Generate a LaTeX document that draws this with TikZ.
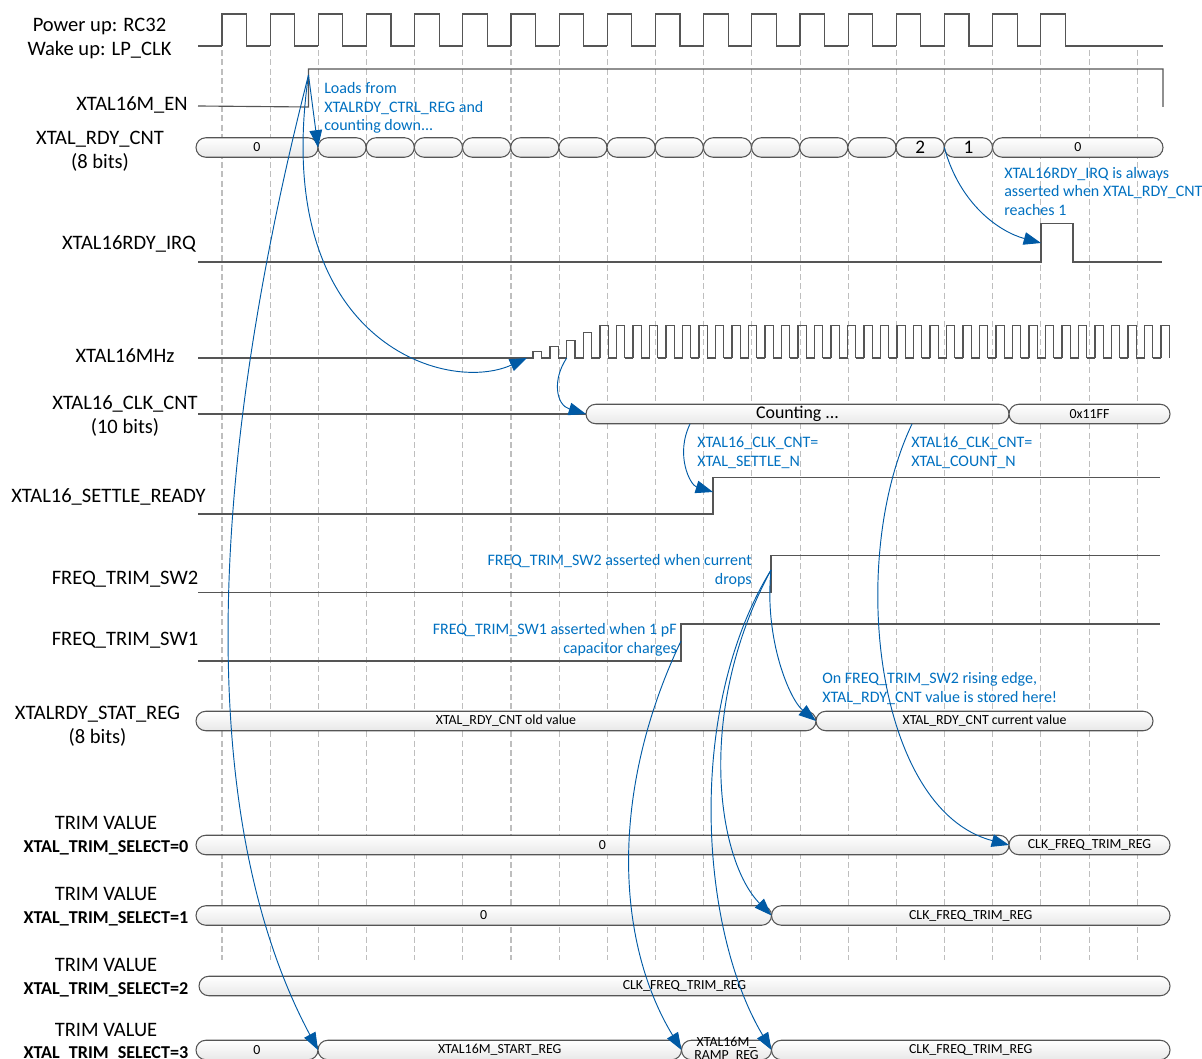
\documentclass[tikz,border=0pt]{standalone}
\usepackage{fontspec}
\setmainfont{Carlito}
\definecolor{wiregray}{RGB}{85,85,85}
\definecolor{gridgray}{RGB}{190,190,190}
\definecolor{notablue}{RGB}{0,112,192}
\definecolor{arrowblue}{RGB}{0,90,165}
\usetikzlibrary{shapes.misc,arrows.meta,positioning}
\newcommand{\boldselect}{\fontsize{13.6}{16}\selectfont\bfseries}
\newcommand{\bigvalue}{\fontsize{13.4}{16}\selectfont}
\tikzset{
    wire/.style={draw=wiregray, line width=0.85pt},
    gridline/.style={draw=gridgray, line width=0.8pt, dash pattern=on 4.5pt off 2.5pt},
    busbox/.style={rounded rectangle, draw=wiregray, line width=0.8pt, top color=white, bottom color=gray!18, minimum height=14.6pt, inner sep=0pt, outer sep=0pt, font=\fontsize{10.4}{12}\selectfont, text=black},
    signame/.style={font=\fontsize{15.4}{18}\selectfont, align=center, text=black, inner sep=0pt},
    note/.style={font=\large, text=notablue, inner sep=0pt},
    jump/.style={draw=arrowblue, line width=0.7pt, -{Triangle[length=13pt,width=9.5pt,fill=arrowblue]}},
}
% name, left x, right x, centre y, text
\newcommand{\busnode}[5]{
    \node[busbox, minimum width={((#3)-(#2))*0.75pt}] (#1) at ({((#2)+(#3))/2},#4) {#5};
}
\begin{document}
\begin{tikzpicture}[x=0.75pt,y=-0.75pt]
    \useasboundingbox (0,0) rectangle (1202,1059);

    % time grid
    \foreach \i in {0,...,19} {
        \draw[gridline] ({222+48.17*\i},50) -- ({222+48.17*\i},960);
    }

    % signal names
    \node[signame] (lblclk) at (99.5,38.5) {Power up: RC32\\Wake up: LP\_CLK};
    \node[signame] (lblen) at (132,105) {XTAL16M\_EN};
    \node[signame] (lblcnt) at (100,151) {XTAL\_RDY\_CNT\\(8 bits)};
    \node[signame] (lblirq) at (129,244) {XTAL16RDY\_IRQ};
    \node[signame] (lblmhz) at (125,356) {XTAL16MHz};
    \node[signame] (lblclkcnt) at (125,416) {XTAL16\_CLK\_CNT\\(10 bits)};
    \node[signame] (lblsettle) at (108.5,497) {XTAL16\_SETTLE\_READY};
    \node[signame] (lblswtwo) at (125,579) {FREQ\_TRIM\_SW2};
    \node[signame] (lblswone) at (125,640) {FREQ\_TRIM\_SW1};
    \node[signame] (lblstat) at (97.5,726) {XTALRDY\_STAT\_REG\\(8 bits)};
    \node[signame] (lblselzero) at (106,836) {TRIM VALUE\\[-1pt]{\boldselect XTAL\_TRIM\_SELECT=0}};
    \node[signame] (lblselone) at (106,907) {TRIM VALUE\\[-1pt]{\boldselect XTAL\_TRIM\_SELECT=1}};
    \node[signame] (lblseltwo) at (106,977.5) {TRIM VALUE\\[-1pt]{\boldselect XTAL\_TRIM\_SELECT=2}};
    \node[signame] (lblselthree) at (106,1042) {TRIM VALUE\\[-1pt]{\boldselect XTAL\_TRIM\_SELECT=3}};

    % clock
    \coordinate (clkstart) at (198,46);
    \draw[wire] (clkstart) -- (222,46);
    \foreach \i in {0,...,17} {
        \draw[wire] ({222+48.17*\i},46) -- ({222+48.17*\i},14) -- ({246.5+48.17*\i},14) -- ({246.5+48.17*\i},46) -- ({270.17+48.17*\i},46);
    }
    \coordinate (clkend) at (1163,46);
    \draw[wire] (1065,46) -- (clkend);

    % enable
    \coordinate (enstart) at (198,106);
    \coordinate (enrise) at (308.5,75);
    \draw[wire] (enstart) -- (308.5,107) -- (308.5,69) -- (1163,69) -- (1163,107);

    % ready counter
    \busnode{cntold}{196}{318}{147.5}{0}
    \foreach \i in {0,...,12} {
        \busnode{cnt\i}{318+48.17*\i}{366.17+48.17*\i}{147.5}{}
    }
    \busnode{cnttwo}{896}{944.3}{147.5}{\Large 2}
    \busnode{cntone}{944.3}{992.5}{147.5}{\Large 1}
    \busnode{cntzero}{992.5}{1163}{147.5}{0}

    % ready interrupt
    \coordinate (irqstart) at (198,262);
    \coordinate (irqrise) at (1041,243);
    \draw[wire] (irqstart) -- (1041,262) -- (1041,223.5) -- (1073,223.5) -- (1073,262) -- (1162,262);

    % crystal start up
    \coordinate (mhzstart) at (198,358);
    \coordinate (mhzfirst) at (527,358);
    \coordinate (mhzrise) at (566.7,358);
    \draw[wire] (mhzstart) -- (533,358) -- (533,351.5) -- (541.7,351.5) -- (541.7,358) -- (550,358) -- (550,346.5) -- (558.3,346.5) -- (558.3,358) -- (566.7,358) -- (566.7,340.5) -- (575,340.5) -- (575,358) -- (583.3,358) -- (583.3,332.5) -- (591.7,332.5) -- (591.7,358) -- (600,358);
    \foreach \i in {0,...,34} {
        \draw[wire] ({600+16.5*\i},358) -- ({600+16.5*\i},325.5) -- ({608.25+16.5*\i},325.5) -- ({608.25+16.5*\i},358);
    }
    \foreach \i in {0,...,33} {
        \draw[wire] ({608.25+16.5*\i},358) -- ({616.5+16.5*\i},358);
    }

    % crystal clock counter
    \coordinate (clkcntstart) at (198,414);
    \busnode{counting}{586}{1009}{414}{\bigvalue\raisebox{-1.5pt}{Counting ...}}
    \busnode{countend}{1009}{1170}{414}{0x11FF}
    \draw[wire] (clkcntstart) -- (counting.west);

    % settle and trim switches
    \coordinate (settlestart) at (198,514);
    \coordinate (settlerise) at (713,492);
    \draw[wire] (settlestart) -- (713,514) -- (713,477.5) -- (1160,477.5);
    \coordinate (swtwostart) at (198,592.5);
    \coordinate (swtworise) at (771,570);
    \draw[wire] (swtwostart) -- (771,592.5) -- (771,555.5) -- (1160,555.5);
    \coordinate (swonestart) at (198,661);
    \coordinate (swonerise) at (681,641);
    \draw[wire] (swonestart) -- (681,661) -- (681,624) -- (1160,624);

    % status register
    \busnode{statold}{196}{816}{721}{XTAL\_RDY\_CNT old value}
    \busnode{statnew}{816}{1153}{721}{XTAL\_RDY\_CNT current value}

    % trim values
    \busnode{selzeroa}{196}{1009}{845}{0}
    \busnode{selzerob}{1009}{1170}{845}{CLK\_FREQ\_TRIM\_REG}
    \busnode{selonea}{196}{771.5}{915.5}{0}
    \busnode{seloneb}{771.5}{1170}{915.5}{CLK\_FREQ\_TRIM\_REG}
    \busnode{seltwo}{199}{1170}{986}{CLK\_FREQ\_TRIM\_REG}
    \busnode{selthreea}{196}{318}{1050}{0}
    \busnode{selthreeb}{318}{681.5}{1050}{XTAL16M\_START\_REG}
    \busnode{selthreec}{681.5}{771.5}{1050}{\smash{\raisebox{-2.6pt}{\begin{tabular}{@{}c@{}}XTAL16M\_\\[-2.2pt]RAMP\_REG\end{tabular}}}}
    \busnode{selthreed}{771.5}{1170}{1050}{CLK\_FREQ\_TRIM\_REG}

    % notes
    \node[note, align=left, anchor=west] (noteload) at (324,108) {Loads from\\XTALRDY\_CTRL\_REG and\\counting down...};
    \node[note, align=left, anchor=west] (noteirq) at (1004,191.5) {XTAL16RDY\_IRQ is always\\asserted when XTAL\_RDY\_CNT\\reaches 1};
    \node[note, align=left, anchor=west] (notesettle) at (697,452.5) {XTAL16\_CLK\_CNT=\\XTAL\_SETTLE\_N};
    \node[note, align=left, anchor=west] (notecount) at (911,452.5) {XTAL16\_CLK\_CNT=\\XTAL\_COUNT\_N};
    \node[note, align=right, anchor=east] (noteswtwo) at (752,570.5) {FREQ\_TRIM\_SW2 asserted when current\\drops};
    \node[note, align=right, anchor=east] (noteswone) at (677,639.5) {FREQ\_TRIM\_SW1 asserted when 1 pF\\capacitor charges};
    \node[note, align=left, anchor=west] (notestore) at (822,688.5) {On FREQ\_TRIM\_SW2 rising edge,\\XTAL\_RDY\_CNT value is stored here!};

    % cause and effect
    \draw[jump] (enrise) -- (cnt0.west);
    \draw[jump] (enrise) .. controls (270,340) and (445,395) .. (mhzfirst);
    \draw[jump] (enrise) .. controls (200,500) and (202,833) .. (selthreeb.west);
    \draw[jump] (cntone.west) .. controls (960,205) and (1000,232) .. (irqrise);
    \draw[jump] (mhzrise) .. controls (552,380) and (556,405) .. (counting.west);
    \coordinate (countsettle) at (690,424);
    \coordinate (countdone) at (912,424);
    \draw[jump] (countsettle) .. controls (675,455) and (690,485) .. (settlerise);
    \draw[jump] (countdone) .. controls (847,560) and (875,810) .. (selzerob.west);
    \draw[jump] (swtworise) .. controls (764,640) and (790,700) .. (statnew.west);
    \draw[jump] (swtworise) .. controls (695,710) and (717,860) .. (seloneb.west);
    \draw[jump] (swtworise) .. controls (685,710) and (700,930) .. (selthreed.west);
    \draw[jump] (swonerise) .. controls (610,790) and (615,940) .. (selthreec.west);
\end{tikzpicture}
\end{document}
